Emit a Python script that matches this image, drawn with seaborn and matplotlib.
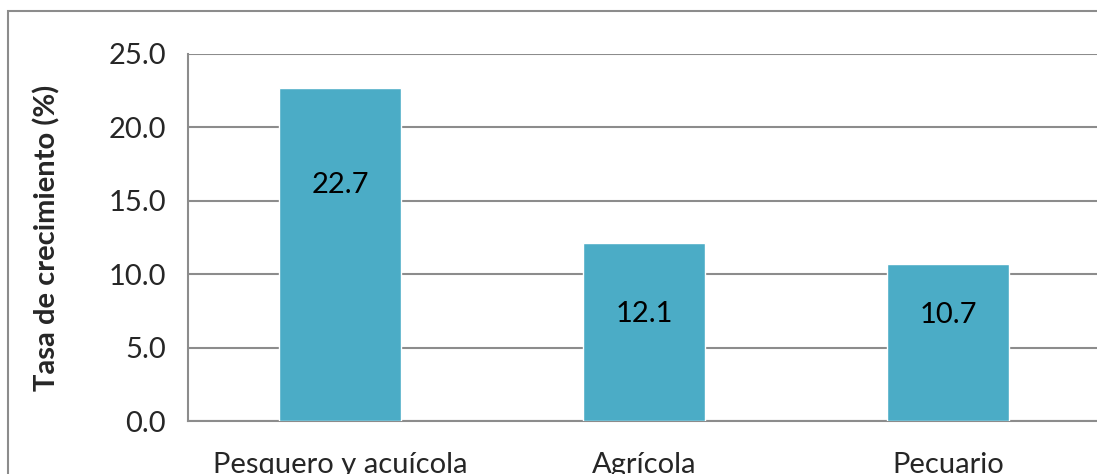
import matplotlib
matplotlib.use('Agg')
import matplotlib.pyplot as plt
import seaborn as sns
import pandas as pd
from matplotlib.patches import Rectangle

# datos del grafico
sectores = ['Pesquero y acuícola', 'Agrícola', 'Pecuario']
tasa = [22.7, 12.1, 10.7]
# altura de las etiquetas dentro de las barras
label_y = [16.1, 7.3, 7.2]

df = pd.DataFrame({'sector': sectores, 'tasa': tasa})

sns.set_style('white')
plt.rcParams['font.family'] = ['Lato', 'DejaVu Sans']

gris = '#8c8c8c'
fig = plt.figure(figsize=(10.97, 4.74), dpi=100)
# marco del grafico (recortado por la derecha y abajo)
fig.patches.append(Rectangle((8 / 1097, -0.05), 1.2, (474 - 11) / 474 + 0.05,
                             transform=fig.transFigure, fill=False,
                             edgecolor=gris, linewidth=1.5))
ax = fig.add_axes([188 / 1097, 53 / 474, 912 / 1097, 367 / 474])

sns.barplot(data=df, x='sector', y='tasa', color='#4bacc6', saturation=1,
            width=0.4, ax=ax, zorder=3)

ax.set_ylim(0, 25)
ax.set_xlim(-0.5, 2.5)
ax.set_yticks([0, 5, 10, 15, 20, 25])
ax.set_yticklabels([f'{v:.1f}' for v in [0, 5, 10, 15, 20, 25]])
ax.yaxis.grid(True, color=gris, linewidth=1.5, zorder=0)
ax.set_axisbelow(True)

# marcas de categoria en los bordes
ax.set_xticks([-0.5, 0.5, 1.5, 2.5], minor=True)
ax.tick_params(axis='x', which='major', length=0, pad=22, labelsize=21)
ax.tick_params(axis='x', which='minor', length=10, width=1.5, color=gris, direction='out')
ax.tick_params(axis='y', length=10, width=1.5, color=gris, direction='out', labelsize=21, pad=6)

for s in ['top', 'right']:
    ax.spines[s].set_visible(False)
for s in ['left', 'bottom']:
    ax.spines[s].set_color(gris)
    ax.spines[s].set_linewidth(1.5)

ax.set_xlabel('')
ax.set_ylabel('Tasa de crecimiento (%)', fontsize=21, fontweight='bold', labelpad=34)

for i, v in enumerate(tasa):
    ax.text(i, label_y[i], f'{v:.1f}', ha='center', va='center', fontsize=21, color='black')

fig.savefig('out.png', dpi=100)
